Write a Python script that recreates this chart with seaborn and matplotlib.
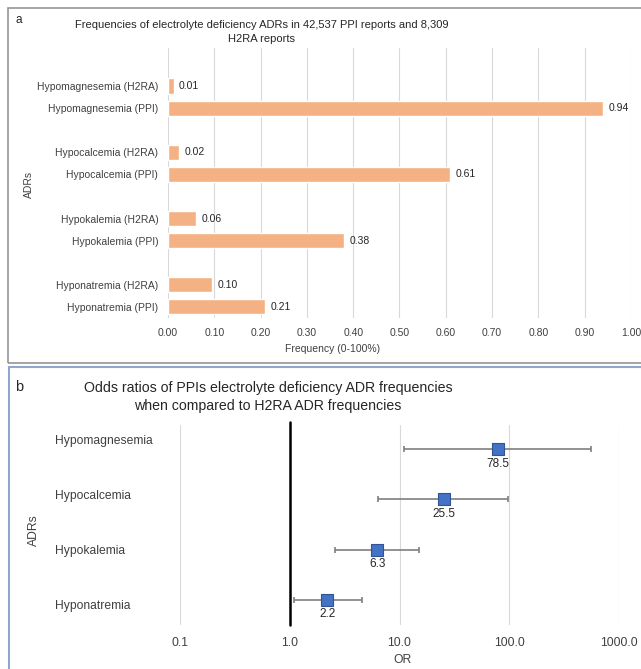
import matplotlib
matplotlib.use('Agg')
import matplotlib.pyplot as plt
import matplotlib.patches as mpatches
import numpy as np
import pandas as pd
import seaborn as sns

sns.set_theme(style='white')
plt.rcParams['font.family'] = ['Liberation Sans', 'DejaVu Sans']

# panel a data
adr_labels = ['Hypomagnesemia (H2RA)', 'Hypomagnesemia (PPI)',
              'Hypocalcemia (H2RA)', 'Hypocalcemia (PPI)',
              'Hypokalemia (H2RA)', 'Hypokalemia (PPI)',
              'Hyponatremia (H2RA)', 'Hyponatremia (PPI)']
freq = [0.012, 0.94, 0.024, 0.61, 0.06, 0.38, 0.096, 0.21]
freq_ticks = [0.0, 0.1, 0.2, 0.3, 0.4, 0.5, 0.6, 0.7, 0.8, 0.9, 1.0]

# panel b data
or_labels = ['Hypomagnesemia', 'Hypocalcemia', 'Hypokalemia', 'Hyponatremia']
or_vals = [78.5, 25.5, 6.3, 2.2]
ci_low = [10.9, 6.4, 2.6, 1.1]
ci_high = [556.0, 98.0, 14.9, 4.6]
or_ticks = [0.1, 1.0, 10.0, 100.0, 1000.0]

W, H = 641, 669
fig = plt.figure(figsize=(W / 100, H / 100), dpi=100)

# panel frames
fig.patches.append(mpatches.Rectangle((8 / W, 1 - 363 / H), 700 / W, 355 / H,
                                      transform=fig.transFigure, fill=False,
                                      edgecolor='#959595', lw=1.2))
fig.patches.append(mpatches.Rectangle((9 / W, -0.1), 700 / W, 1.1 - 367 / H,
                                      transform=fig.transFigure, fill=False,
                                      edgecolor='#8FA6CF', lw=1.5))

# ---- panel a ----
ax1 = fig.add_axes([168 / W, 1 - 318 / H, 463 / W, 270 / H])
df = pd.DataFrame({'adr': adr_labels, 'freq': freq})
# blank slots between the ADR groups, like the excel gap
order = [' ']
for i in range(0, 8, 2):
    order += [adr_labels[i], adr_labels[i + 1]]
    if i < 6:
        order.append(' ' * (i // 2 + 2))
sns.barplot(data=df, x='freq', y='adr', order=order, color='#F4B183',
            width=0.68, saturation=1, ax=ax1, orient='h')
ax1.bar_label(ax1.containers[0], fmt='%.2f', padding=4, fontsize=7.5, color='#262626')
ax1.set_xlim(0, 1.0)
ax1.set_ylim(len(order) - 0.5, -0.72)
ax1.set_xticks(freq_ticks)
ax1.set_xticklabels([f'{t:.2f}' for t in freq_ticks])
ax1.tick_params(axis='both', length=0, labelsize=7.5, colors='#404040')
ax1.tick_params(axis='x', pad=7)
ax1.tick_params(axis='y', pad=7)
ax1.grid(axis='x', color='#D9D9D9', lw=0.8)
ax1.set_axisbelow(True)
for s in ax1.spines.values():
    s.set_visible(False)
ax1.set_xlabel('Frequency (0-100%)', fontsize=7.5, color='#404040')
ax1.xaxis.set_label_coords(0.356, -0.095)
ax1.set_ylabel('ADRs', fontsize=7.5, color='#404040')
ax1.yaxis.set_label_coords(-0.289, 0.493)

fig.text(262 / W, 1 - 32 / H,
         'Frequencies of electrolyte deficiency ADRs in 42,537 PPI reports and 8,309\nH2RA reports',
         ha='center', va='center', fontsize=8, color='#262626', linespacing=1.6)
fig.text(15 / W, 1 - 20 / H, 'a', ha='left', va='center', fontsize=8.5, color='#262626')

# ---- panel b ----
ax2 = fig.add_axes([180 / W, 1 - 625 / H, 439 / W, 200 / H])
ypos = np.arange(len(or_labels), 0, -1)
or_arr = np.array(or_vals)
xerr = [or_arr - np.array(ci_low), np.array(ci_high) - or_arr]
ax2.errorbar(or_arr, ypos, xerr=xerr, fmt='none', ecolor='#7F7F7F',
             elinewidth=1.2, capsize=2.5, capthick=1.2, zorder=2)
sns.scatterplot(x=or_arr, y=ypos, marker='s', s=80, color='#4472C4',
                edgecolor='#2F5597', linewidth=0.8, ax=ax2, zorder=3)
for x, y in zip(or_vals, ypos):
    ax2.annotate(f'{x:.1f}', (x, y), xytext=(0, -10.5), textcoords='offset points',
                 ha='center', va='center', fontsize=8.5, color='#262626')
ax2.set_xscale('log')
ax2.set_xlim(0.1, 1000)
ax2.set_ylim(0.5, 4.48)
ax2.set_xticks(or_ticks)
ax2.set_xticklabels([f'{t:.1f}' for t in or_ticks])
ax2.minorticks_off()
# category labels in the original sit on a slightly wider spacing than the points
ax2.set_yticks(2.5 + (ypos - 2.5) * 1.1 + 0.05)
ax2.set_yticklabels(or_labels)
for lab in ax2.get_yticklabels():
    lab.set_horizontalalignment('left')
ax2.tick_params(axis='both', length=0, labelsize=8.7, colors='#404040')
ax2.tick_params(axis='x', pad=9)
ax2.tick_params(axis='y', pad=90)
for t in [0.1, 10, 100, 1000]:
    ax2.axvline(t, color='#D9D9D9', lw=0.8, zorder=0)
ax2.axvline(1.0, ymin=0, ymax=1.015, color='black', lw=1.8, zorder=1, clip_on=False)
for s in ax2.spines.values():
    s.set_visible(False)
ax2.set_xlabel('OR', fontsize=8.7, color='#404040')
ax2.xaxis.set_label_coords(0.506, -0.145)
ax2.set_ylabel('ADRs', fontsize=8.7, color='#404040')
ax2.yaxis.set_label_coords(-0.319, 0.475)

fig.text(268 / W, 1 - 397 / H,
         'Odds ratios of PPIs electrolyte deficiency ADR frequencies\nwhen compared to H2RA ADR frequencies',
         ha='center', va='center', fontsize=10.2, color='#262626', linespacing=1.4)
fig.text(15 / W, 1 - 387 / H, 'b', ha='left', va='center', fontsize=10.5, color='#262626')

fig.savefig('out.png', dpi=100)
